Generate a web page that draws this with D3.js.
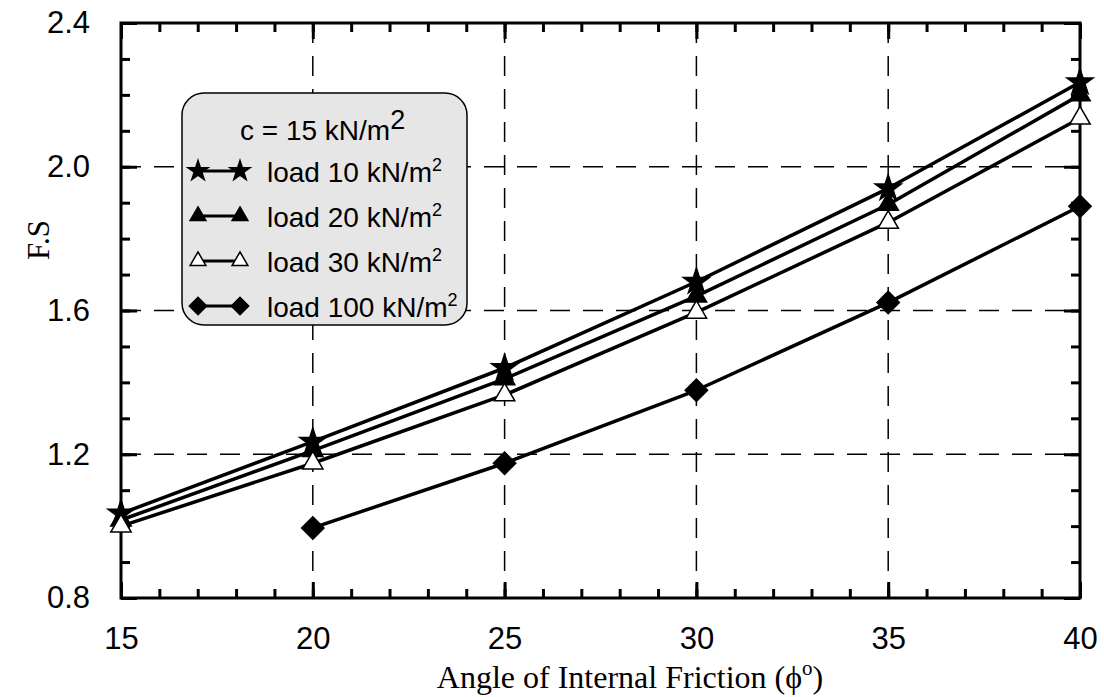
<!DOCTYPE html>
<html>
<head>
<meta charset="utf-8">
<script src="https://cdn.jsdelivr.net/npm/d3@7"></script>
<style>
  body { margin: 0; background: #fff; }
  svg { display: block; }
</style>
</head>
<body>
<svg id="chart" width="1104" height="697"></svg>
<script>
"use strict"

// data
var phi     = [15, 20, 25, 30, 35, 40];
var load10  = [1.035, 1.235, 1.44, 1.68, 1.94, 2.235];
var load20  = [1.017, 1.21, 1.41, 1.64, 1.895, 2.20];
var load30  = [1.0, 1.175, 1.365, 1.595, 1.845, 2.135];
var load100 = [null, 0.995, 1.175, 1.378, 1.622, 1.89];
var xMajor  = [15, 20, 25, 30, 35, 40];
var yMajor  = [0.8, 1.2, 1.6, 2.0, 2.4];
var seriesNames = ["load 10 kN/m", "load 20 kN/m", "load 30 kN/m", "load 100 kN/m"];

var W = 1104, H = 697;
var m = {left: 121, right: 1080, top: 23, bottom: 598};
var sans = "'Liberation Sans', Arial, sans-serif";
var serif = "'Liberation Serif', 'Times New Roman', serif";

var svg = d3.select("#chart");

var x = d3.scaleLinear().domain([15, 40]).range([m.left, m.right]);
var y = d3.scaleLinear().domain([0.8, 2.4]).range([m.bottom, m.top]);

//
// grid
//
var grid = svg.append("g").attr("stroke", "#000").attr("stroke-width", 1.5)
	.attr("stroke-dasharray", "20,13");
grid.selectAll(".gx").data(xMajor.slice(1, -1)).enter().append("line")
	.attr("x1", function(d) { return x(d); }).attr("x2", function(d) { return x(d); })
	.attr("y1", m.top).attr("y2", m.bottom);
grid.selectAll(".gy").data(yMajor.slice(1, -1)).enter().append("line")
	.attr("y1", function(d) { return y(d); }).attr("y2", function(d) { return y(d); })
	.attr("x1", m.left).attr("x2", m.right);

//
// axes (ticks point inward on all four sides)
//
function styleAxis(g) {
	g.select(".domain").remove();
	g.selectAll(".tick line").attr("stroke", "#000").attr("stroke-width", 3);
	g.selectAll(".tick text").attr("font-family", sans).attr("font-size", 31).attr("fill", "#000");
}
var xMinor = d3.range(15, 41, 1);
var yMinor = d3.range(8, 25, 1).map(function(v) { return v / 10; });

svg.append("g").attr("transform", "translate(0," + m.bottom + ")")
	.call(d3.axisBottom(x).tickValues(xMinor).tickSize(-9).tickFormat(""))
	.call(styleAxis);
svg.append("g").attr("transform", "translate(0," + m.top + ")")
	.call(d3.axisTop(x).tickValues(xMinor).tickSize(-9).tickFormat(""))
	.call(styleAxis);
svg.append("g").attr("transform", "translate(" + m.left + ",0)")
	.call(d3.axisLeft(y).tickValues(yMinor).tickSize(-9).tickFormat(""))
	.call(styleAxis);
svg.append("g").attr("transform", "translate(" + m.right + ",0)")
	.call(d3.axisRight(y).tickValues(yMinor).tickSize(-9).tickFormat(""))
	.call(styleAxis);

svg.append("g").attr("transform", "translate(0," + m.bottom + ")")
	.call(d3.axisBottom(x).tickValues(xMajor).tickSizeInner(-16).tickSizeOuter(0).tickPadding(29).tickFormat(d3.format("d")))
	.call(styleAxis);
svg.append("g").attr("transform", "translate(0," + m.top + ")")
	.call(d3.axisTop(x).tickValues(xMajor).tickSize(-16).tickFormat(""))
	.call(styleAxis);
svg.append("g").attr("transform", "translate(" + m.left + ",0)")
	.call(d3.axisLeft(y).tickValues(yMajor).tickSizeInner(-16).tickSizeOuter(0).tickPadding(31).tickFormat(d3.format(".1f")))
	.call(styleAxis);
svg.append("g").attr("transform", "translate(" + m.right + ",0)")
	.call(d3.axisRight(y).tickValues(yMajor).tickSize(-16).tickFormat(""))
	.call(styleAxis);

svg.append("rect")
	.attr("x", m.left).attr("y", m.top)
	.attr("width", m.right - m.left).attr("height", m.bottom - m.top)
	.attr("fill", "none").attr("stroke", "#000").attr("stroke-width", 3);

//
// axis titles
//
var xt = svg.append("text")
	.attr("x", 630).attr("y", 688)
	.attr("text-anchor", "middle")
	.attr("font-family", serif).attr("font-size", 32).attr("fill", "#000");
xt.append("tspan").text("Angle of Internal Friction (\u03d5");
xt.append("tspan").attr("font-size", 21).attr("dy", -13).text("o");
xt.append("tspan").attr("dy", 13).text(")");

svg.append("text")
	.attr("transform", "translate(49,240) rotate(-90)")
	.attr("text-anchor", "middle")
	.attr("font-family", serif).attr("font-size", 31).attr("fill", "#000")
	.text("F.S");

//
// markers
//
var series = [
	{name: seriesNames[0], values: load10,  type: d3.symbolStar,     size: 210, fill: "#000", rot: 0},
	{name: seriesNames[1], values: load20,  type: d3.symbolTriangle, size: 180, fill: "#000", rot: 0},
	{name: seriesNames[2], values: load30,  type: d3.symbolTriangle, size: 180, fill: "#fff", rot: 0},
	{name: seriesNames[3], values: load100, type: d3.symbolSquare,   size: 250, fill: "#000", rot: 45}
];

function drawMarker(g, s, cx, cy, k) {
	g.append("path")
		.attr("d", d3.symbol().type(s.type).size(s.size * k)())
		.attr("transform", "translate(" + cx + "," + cy + ") rotate(" + s.rot + ")")
		.attr("fill", s.fill).attr("stroke", "#000").attr("stroke-width", 1.5);
}

//
// legend
//
var lg = svg.append("g");
lg.append("rect")
	.attr("x", 182).attr("y", 93).attr("width", 285).attr("height", 232)
	.attr("rx", 22).attr("ry", 22)
	.attr("fill", "#e6e6e6").attr("stroke", "#000").attr("stroke-width", 1.5);
var lt = lg.append("text")
	.attr("x", 240).attr("y", 140)
	.attr("font-family", sans).attr("font-size", 28).attr("fill", "#000");
lt.append("tspan").text("c = 15 kN/m");
lt.append("tspan").attr("font-size", 27).attr("dy", -11).text("2");

series.forEach(function(s, i) {
	var cy = 171 + i * 45;
	lg.append("line")
		.attr("x1", 198).attr("x2", 240).attr("y1", cy).attr("y2", cy)
		.attr("stroke", "#000").attr("stroke-width", 3);
	drawMarker(lg, s, 198, cy, 0.6);
	drawMarker(lg, s, 240, cy, 0.6);
	var t = lg.append("text")
		.attr("x", 267).attr("y", cy + 11)
		.attr("font-family", sans).attr("font-size", 28).attr("fill", "#000");
	t.append("tspan").text(s.name);
	t.append("tspan").attr("font-size", 18).attr("dy", -11).text("2");
});

//
// series
//
var line = d3.line()
	.defined(function(d) { return d[1] != null; })
	.x(function(d) { return x(d[0]); })
	.y(function(d) { return y(d[1]); });

series.forEach(function(s) {
	var pts = phi.map(function(p, i) { return [p, s.values[i]]; });
	svg.append("path")
		.attr("d", line(pts))
		.attr("fill", "none").attr("stroke", "#000").attr("stroke-width", 3.5)
		.attr("stroke-linejoin", "round");
});
series.forEach(function(s) {
	var g = svg.append("g");
	phi.forEach(function(p, i) {
		if (s.values[i] == null) return;
		drawMarker(g, s, x(p), y(s.values[i]), 1);
	});
});
</script>
</body>
</html>
